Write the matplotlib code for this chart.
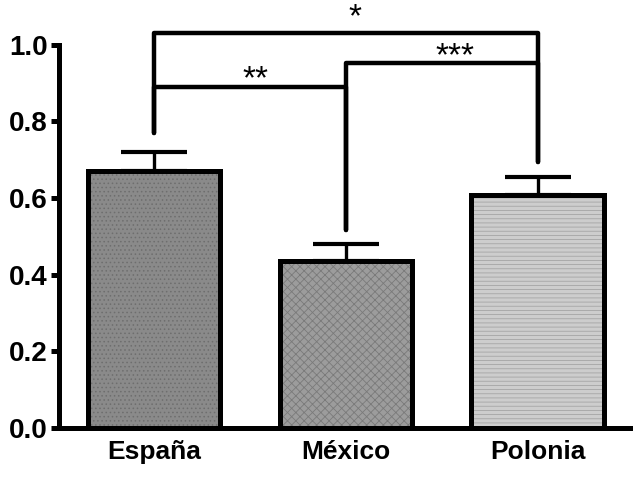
import matplotlib
matplotlib.use("Agg")
import matplotlib.pyplot as plt

categories = ["España", "México", "Polonia"]
means = [0.671, 0.435, 0.608]
errors = [0.049, 0.045, 0.047]
yticks = [0.0, 0.2, 0.4, 0.6, 0.8, 1.0]
ytick_labels = ["0.0", "0.2", "0.4", "0.6", "0.8", "1.0"]
# significance brackets: (left idx, right idx, height, left leg bottom, right leg bottom, label, label x, label baseline y)
brackets = [
    (0, 1, 0.89, 0.77, 0.517, "**", 0.53, 0.886),
    (1, 2, 0.953, 0.517, 0.695, "***", 1.57, 0.946),
    (0, 2, 1.031, 0.77, 0.695, "*", 1.05, 1.048),
]
face_colors = ["#8a8a8a", "#9c9c9c", "#cdcdcd"]
hatches = ["....", "xxxx", "----"]
hatch_colors = ["#6e6e6e", "#7a7a7a", "#a5a5a5"]

plt.rcParams['font.family'] = ['Liberation Sans', 'DejaVu Sans']
plt.rcParams['hatch.linewidth'] = 0.6

fig = plt.figure(figsize=(6.38, 4.79), dpi=100)
ax = fig.add_axes([0.0925, 0.1065, 0.8945, 0.8935])

x = list(range(len(categories)))
for i in x:
    ax.bar(i, means[i], width=0.69, color=face_colors[i], edgecolor=hatch_colors[i],
           hatch=hatches[i], linewidth=0, zorder=2)
    ax.bar(i, means[i], width=0.69, facecolor="none", edgecolor="black",
           linewidth=3.6, zorder=3)
    ax.errorbar(i, means[i], yerr=[[0], [errors[i]]], fmt="none", ecolor="black",
                elinewidth=2.4, capsize=24, capthick=3.0, zorder=1)

for l, r, h, lb, rb, lab, lx, ly in brackets:
    ax.plot([l, l, r, r], [lb, h, h, rb], color="black", lw=3.2,
            solid_joinstyle="round", solid_capstyle="round", clip_on=False, zorder=4)
    ax.text(lx, ly, lab, ha="center", va="baseline", fontsize=24, clip_on=False)

ax.set_xlim(-0.495, 2.48)
ax.set_ylim(0, 1.117)
ax.spines["top"].set_visible(False)
ax.spines["right"].set_visible(False)
ax.spines["left"].set_bounds(0, 1.0)
ax.spines["left"].set_linewidth(3.6)
ax.spines["bottom"].set_linewidth(3.6)
ax.set_yticks(yticks)
ax.set_yticklabels(ytick_labels, fontsize=20, fontweight="bold")
ax.set_xticks(x)
ax.set_xticklabels(categories, fontsize=19, fontweight="bold")
ax.tick_params(axis="y", length=6, width=3.6, pad=2)
ax.tick_params(axis="x", length=0, pad=9)

fig.savefig("out.png", dpi=100)
